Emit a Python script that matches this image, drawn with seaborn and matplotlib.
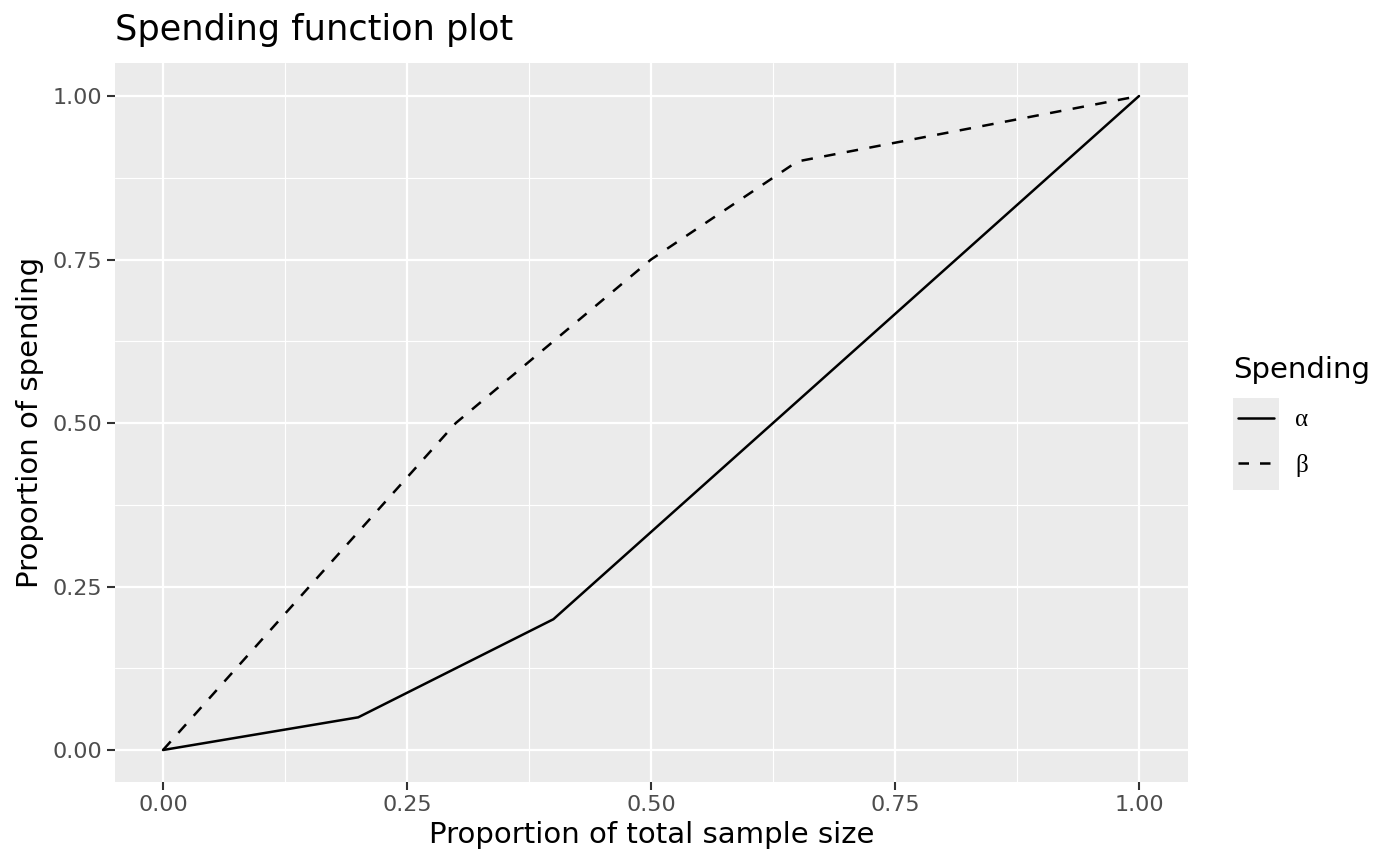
import numpy as np
import pandas as pd
import matplotlib
matplotlib.use("Agg")
import matplotlib.pyplot as plt
import matplotlib.patches as mpatches
from matplotlib.ticker import MultipleLocator
import seaborn as sns

# ---- data ----
alpha_x = [0.0, 0.2, 0.4, 1.0]
alpha_y = [0.0, 0.05, 0.2, 1.0]
beta_x = [0.0, 0.3, 0.5, 0.65, 1.0]
beta_y = [0.0, 0.5, 0.75, 0.9, 1.0]
series_labels = ["α", "β"]
tick_values = [0.0, 0.25, 0.5, 0.75, 1.0]
tick_labels = ["0.00", "0.25", "0.50", "0.75", "1.00"]

df = pd.DataFrame({
    "x": alpha_x + beta_x,
    "y": alpha_y + beta_y,
    "Spending": [series_labels[0]] * len(alpha_x) + [series_labels[1]] * len(beta_x),
})

sns.set_theme(style="darkgrid")
plt.rcParams["font.family"] = ["DejaVu Sans"]
plt.rcParams["text.color"] = "black"

LW = 1.8
fig = plt.figure(figsize=(14, 8.66), dpi=100)
ax = fig.add_axes([115 / 1400, 1 - 782 / 866, (1188 - 115) / 1400, (782 - 63) / 866])
ax.set_facecolor("#EBEBEB")

sns.lineplot(data=df, x="x", y="y", style="Spending",
             dashes={"α": "", "β": (4.6, 4.6)}, color="black",
             linewidth=LW, ax=ax, legend=False, sort=False, estimator=None)

ax.set_xlim(-0.0492, 1.0502)
ax.set_ylim(-0.0489, 1.0505)
ax.set_xticks(tick_values)
ax.set_xticklabels(tick_labels)
ax.set_yticks(tick_values)
ax.set_yticklabels(tick_labels)
ax.xaxis.set_minor_locator(MultipleLocator(0.125))
ax.yaxis.set_minor_locator(MultipleLocator(0.125))
ax.grid(which="major", color="white", linewidth=1.6)
ax.grid(which="minor", color="white", linewidth=0.8)
ax.set_axisbelow(True)
for s in ax.spines.values():
    s.set_visible(False)
ax.tick_params(axis="both", which="major", length=5.5, width=1.5, color="#333333",
               labelsize=16, labelcolor="#4D4D4D", pad=4, bottom=True, left=True)
ax.tick_params(axis="both", which="minor", length=0)

ax.set_xlabel("Proportion of total sample size", fontsize=21, color="black", labelpad=4)
ax.set_ylabel("Proportion of spending", fontsize=21, color="black", labelpad=6)
fig.text(115 / 1400, 1 - 30 / 866, "Spending function plot", fontsize=25.3,
         ha="left", va="center", color="black")

# ---- legend ----
fig.patches.append(mpatches.Rectangle((1233 / 1400, 1 - 490 / 866), 46 / 1400, 92 / 866,
                                      transform=fig.transFigure, facecolor="#EBEBEB",
                                      edgecolor="none", zorder=0))
fig.text(1233 / 1400, 1 - 370 / 866, "Spending", fontsize=21, ha="left", va="center",
         color="black")
handles = [
    plt.Line2D([], [], color="black", linewidth=LW, linestyle="-"),
    plt.Line2D([], [], color="black", linewidth=LW, linestyle=(0, (4.2, 4.4))),
]
leg = fig.legend(handles, series_labels, loc="center left",
                 bbox_to_anchor=(1238 / 1400, 1 - 443 / 866), frameon=False,
                 borderpad=0, borderaxespad=0,
                 handlelength=1.44, handletextpad=0.84, labelspacing=0.9,
                 prop={"family": "Liberation Serif", "size": 18})

fig.savefig("out.png", dpi=100)
